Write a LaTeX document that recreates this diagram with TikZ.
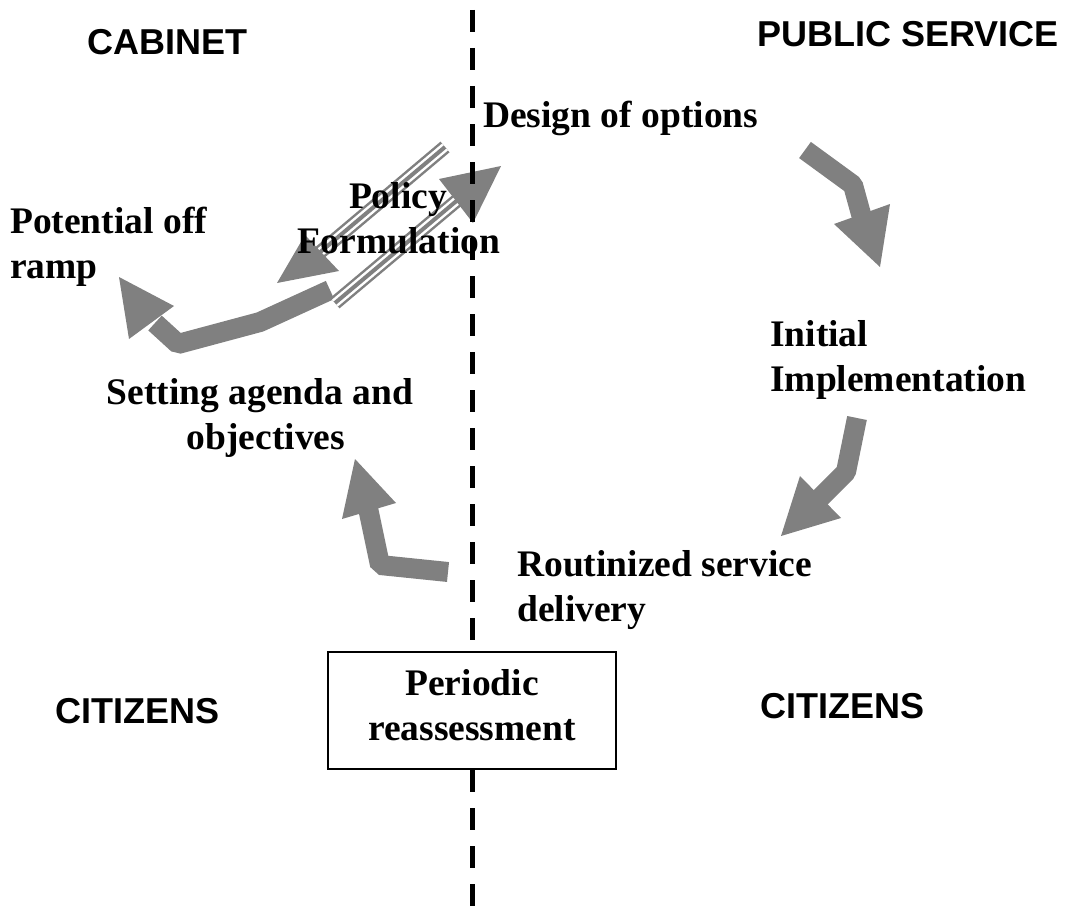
\documentclass[tikz,border=0pt]{standalone}
\usepackage{fontspec}
\setmainfont{Liberation Serif}
\newfontfamily\hdfont{Liberation Sans}
\definecolor{ag}{RGB}{128,128,128}
\tikzset{
  lbl/.style={font=\fontsize{37.5}{45}\selectfont\bfseries, inner sep=0pt},
  hdr/.style={font=\hdfont\fontsize{36}{43}\selectfont\bfseries, inner sep=0pt},
  shaft/.style={draw=ag, line width=20pt, line join=bevel},
  head/.style={fill=ag, draw=none},
  band/.style={draw=ag, line width=14pt, postaction={draw=white, line width=9pt}, postaction={draw=ag, line width=4pt}},
  divider/.style={draw=black, line width=5pt, dash pattern=on 22pt off 16pt},
  boxed/.style={draw=black, line width=1.2pt, fill=white}
}
\begin{document}
\begin{tikzpicture}[x=1pt,y=-1pt]
\useasboundingbox (0,0) rectangle (1074,907);

% ---- arrow 1: design -> implementation
\coordinate (a1s) at (805,150);
\coordinate (a1b) at (853,185);
\coordinate (a1e) at (864,225);
\draw[shaft] (a1s) -- (a1b) -- (a1e);
\fill[head] (834,224) -- (890,204) -- (880,267) -- cycle;

% ---- arrow 2: implementation -> routinized
\coordinate (a2s) at (857,418);
\coordinate (a2b) at (846,472);
\coordinate (a2e) at (818,500);
\draw[shaft] (a2s) -- (a2b) -- (a2e);
\fill[head] (800,476) -- (841,518) -- (781,536) -- cycle;

% ---- arrow 3: routinized -> setting agenda
\coordinate (a3s) at (448,572);
\coordinate (a3b) at (380,565);
\coordinate (a3e) at (368,508);
\draw[shaft] (a3s) -- (a3b) -- (a3e);
\fill[head] (342,519) -- (396,503) -- (355,459) -- cycle;

% ---- arrow 4: to off ramp
\coordinate (a4s) at (330,290);
\coordinate (a4b) at (260,322);
\coordinate (a4c) at (178,344);
\coordinate (a4e) at (155,323);
\draw[shaft] (a4s) -- (a4b) -- (a4c) -- (a4e);
\fill[head] (129,339) -- (174,306) -- (119,277) -- cycle;

% ---- striped double arrows (policy formulation)
\coordinate (bu1) at (445,147);
\coordinate (bu2) at (318,254);
\draw[band] (bu1) -- (bu2);
\fill[head] (305,235) -- (339,271) -- (277,283) -- cycle;

\coordinate (bl1) at (335,303);
\coordinate (bl2) at (460,198);
\draw[band] (bl1) -- (bl2);
\fill[head] (439,179) -- (473,223) -- (501,166) -- cycle;

% ---- divider
\coordinate (dtop) at (472,10);
\coordinate (dbot) at (472,907);
\draw[divider] (dtop) -- (dbot);

% ---- headers
\node[hdr, anchor=base west] (cab) at (87,55) {CABINET};
\node[hdr, anchor=base west] (pub) at (757,47) {PUBLIC SERVICE};
\node[hdr, anchor=base west] (citl) at (55,723) {CITIZENS};
\node[hdr, anchor=base west] (citr) at (760,718) {CITIZENS};

% ---- labels
\node[lbl, anchor=base west] (design) at (483,128) {Design of options};
\node[lbl, anchor=base] (pol1) at (398,208) {Policy};
\node[lbl, anchor=base] (pol2) at (399,253) {Formulation};
\node[lbl, anchor=base west] (pot1) at (10,233) {Potential off};
\node[lbl, anchor=base west] (pot2) at (10,278) {ramp};
\node[lbl, anchor=base] (set1) at (260,404) {Setting agenda and};
\node[lbl, anchor=base] (set2) at (266,449) {objectives};
\node[lbl, anchor=base west] (ini1) at (770,346) {Initial};
\node[lbl, anchor=base west] (ini2) at (770,391) {Implementation};
\node[lbl, anchor=base west] (rou1) at (517,576) {Routinized service};
\node[lbl, anchor=base west] (rou2) at (517,621) {delivery};

% ---- periodic reassessment box
\path[boxed] (328,652) rectangle (616,769);
\node[lbl, anchor=base] (per1) at (472,695) {Periodic};
\node[lbl, anchor=base] (per2) at (472,740) {reassessment};
\end{tikzpicture}
\end{document}
